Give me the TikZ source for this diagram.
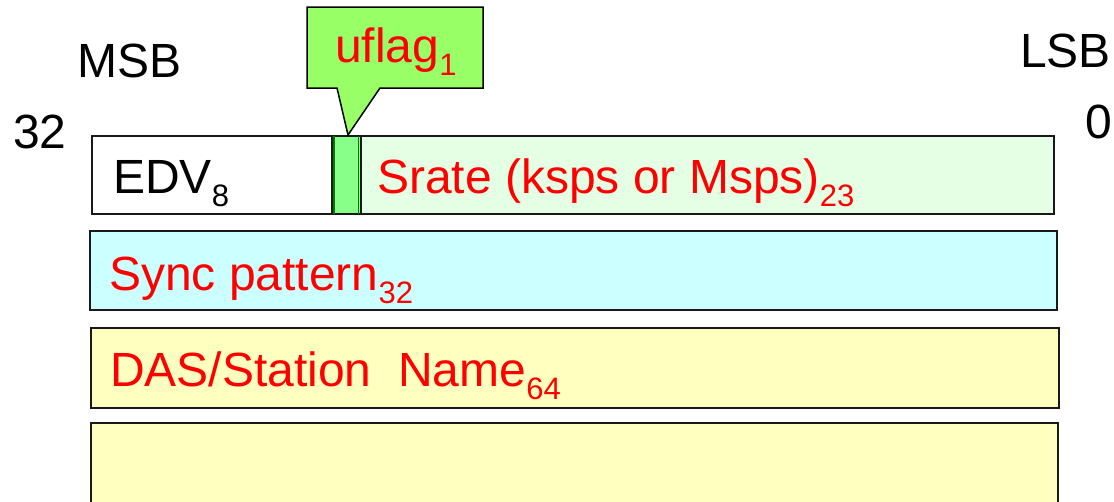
\documentclass[tikz,border=0pt]{standalone}
\usepackage{fontspec}
\setmainfont{Liberation Sans}
\definecolor{calloutgreen}{RGB}{153,255,102}
\definecolor{flaggreen}{RGB}{136,255,136}
\definecolor{flagedge}{RGB}{0,120,0}
\definecolor{srategreen}{RGB}{229,255,229}
\definecolor{synccyan}{RGB}{204,255,255}
\definecolor{dasyellow}{RGB}{255,255,192}
\definecolor{txtred}{RGB}{255,0,0}
\newcommand\sbs[1]{\raisebox{-13pt}{\fontsize{31}{33}\selectfont #1}}
\tikzset{
  field/.style={draw=black!90, line width=1.5pt, anchor=north west, inner sep=0pt, outer sep=0pt},
  big/.style={font=\fontsize{48}{52}\selectfont, inner sep=0pt, anchor=base west},
  redtxt/.style={big, text=txtred},
}
\begin{document}
\begin{tikzpicture}[x=1pt,y=-1pt]
\useasboundingbox (0,0) rectangle (1114,501);
\clip (0,0) rectangle (1114,501);
% row 1
\node[field, fill=white, minimum width=240pt, minimum height=78pt] (edv) at (92,136) {};
\node[field, fill=srategreen, minimum width=693pt, minimum height=78pt] (srate) at (361,136) {};
\node[field, fill=flaggreen, minimum width=29pt, minimum height=78pt] (flag) at (332,136) {};
\draw[flagedge, line width=2pt] ([xshift=2pt]flag.north west) -- ([xshift=2pt]flag.south west);
\draw[flagedge, line width=1pt] ([xshift=-3pt]flag.north east) -- ([xshift=-3pt]flag.south east);
% rows 2-4
\node[field, fill=synccyan, minimum width=967pt, minimum height=79pt] (sync) at (90,231) {};
\node[field, fill=dasyellow, minimum width=968pt, minimum height=80pt] (das) at (91,328) {};
\node[field, fill=dasyellow, line width=2pt, minimum width=967pt, minimum height=100pt] (blank) at (91,423) {};
% callout
\coordinate (tip) at (348,135);
\draw[line width=1.5pt, fill=calloutgreen, line join=miter] (307,7) -- (483,7) -- (483,88) -- (380,88) -- (tip) -- (337,88) -- (307,88) -- cycle;
\node[redtxt] (uflag) at (335,62) {uflag\sbs{1}};
% labels
\node[big] (msb) at (77,77) {MSB};
\node[big] (lsb) at (1020,67) {LSB};
\node[big] (n32) at (13,148) {32};
\node[big] (n0) at (1085,138) {0};
% field texts
\node[big] (edvt) at (113,193) {EDV\sbs{8}};
\node[redtxt] (sratet) at (377,193) {Srate (ksps or Msps)\sbs{23}};
\node[redtxt] (synct) at (109,290) {Sync pattern\sbs{32}};
\node[redtxt] (dast) at (110,386) {DAS/Station\ \ Name\sbs{64}};
\end{tikzpicture}
\end{document}
